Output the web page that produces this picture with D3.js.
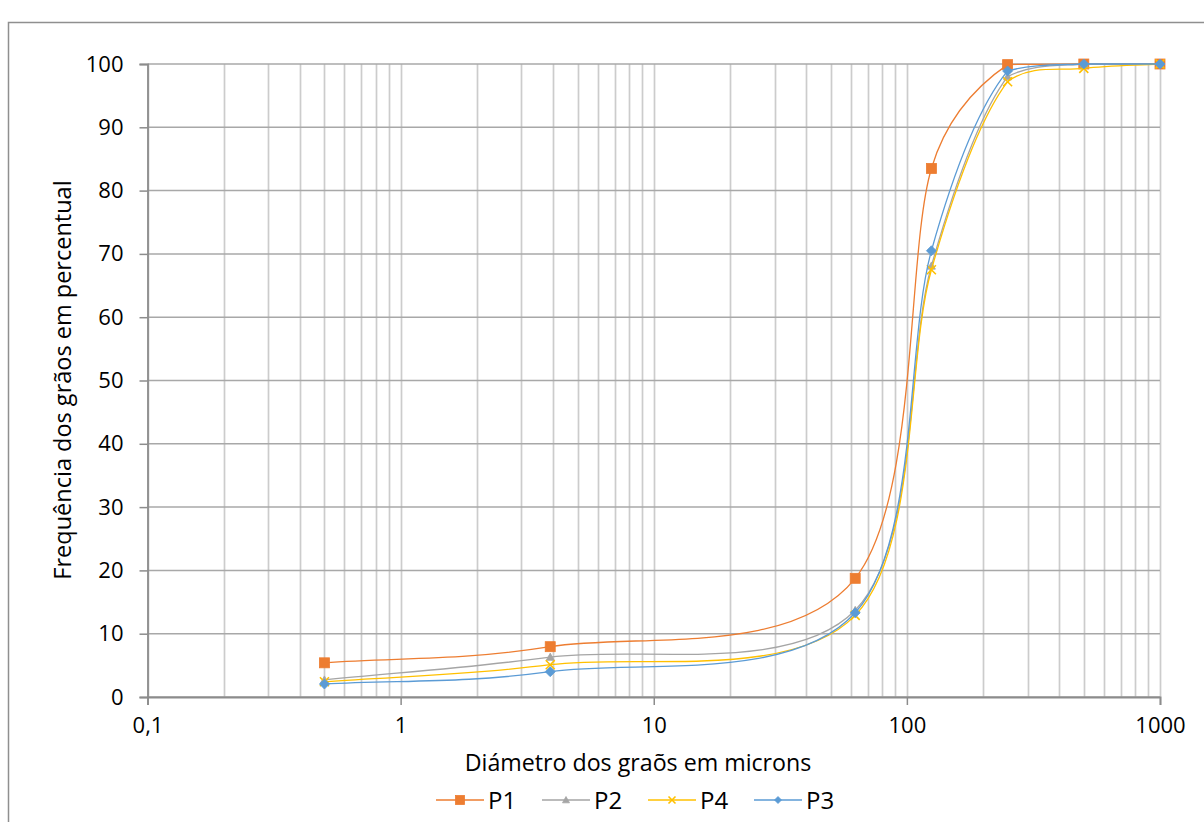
<!DOCTYPE html>
<html>
<head>
<meta charset="utf-8">
<script src="https://cdn.jsdelivr.net/npm/d3@7/dist/d3.min.js"></script>
<style>
  html, body { margin: 0; padding: 0; background: #fff; }
  svg { display: block; }
  text { font-family: "Open Sans", Lato, sans-serif; fill: #000; }
</style>
</head>
<body>
<svg id="chart" width="1204" height="822"></svg>
<script>
// ---- data ----
const diameters = [0.5, 3.9, 62.5, 125, 250, 500, 1000];
const seriesNames = ["P1", "P2", "P4", "P3"];
const p1Values = [5.4, 7.95, 18.75, 83.5, 99.9, 100, 100];
const p2Values = [2.7, 6.3, 13.7, 68.1, 98.0, 100, 100];
const p4Values = [2.4, 5.1, 12.9, 67.5, 97.2, 99.3, 100];
const p3Values = [2.05, 4.0, 13.3, 70.5, 98.9, 100, 100];
const seriesColors = ["#ED7D31", "#A5A5A5", "#FFC000", "#5B9BD5"];
const seriesMarkers = ["square", "triangle", "x", "diamond"];
const xTickValues = [0.1, 1, 10, 100, 1000];
const xTickLabels = ["0,1", "1", "10", "100", "1000"];
const yTickValues = [0, 10, 20, 30, 40, 50, 60, 70, 80, 90, 100];
const xTitle = "Diámetro dos graõs em microns";
const yTitle = "Frequência dos grãos em percentual";

const seriesValues = [p1Values, p2Values, p4Values, p3Values];

// ---- layout ----
const svg = d3.select("#chart");
const L = 147.5, R = 1160, T = 64, B = 697;
const x = d3.scaleLog().domain([0.1, 1000]).range([L, R]);
const y = d3.scaleLinear().domain([0, 100]).range([B, T]);

// chart border
svg.append("rect").attr("x", 8.5).attr("y", 22.5).attr("width", 1260).attr("height", 900)
  .attr("fill", "none").attr("stroke", "#8f8f8f").attr("stroke-width", 1.5);

// vertical gridlines (major + minor)
const minorTicks = [];
for (let e = -1; e < 3; e++) for (let m = 1; m <= 9; m++) minorTicks.push(m * Math.pow(10, e));
minorTicks.push(1000);
svg.append("g").selectAll("line").data(minorTicks).join("line")
  .attr("x1", d => Math.round(x(d)) + 0.5).attr("x2", d => Math.round(x(d)) + 0.5)
  .attr("y1", T).attr("y2", B)
  .attr("stroke", "#cccccc").attr("stroke-width", 1.7);

// horizontal gridlines
svg.append("g").selectAll("line").data(yTickValues).join("line")
  .attr("x1", L).attr("x2", R)
  .attr("y1", d => y(d)).attr("y2", d => y(d))
  .attr("stroke", "#a8a8a8").attr("stroke-width", 1.5);

// axes
const yAxis = d3.axisLeft(y).tickValues(yTickValues).tickSize(8).tickPadding(16).tickFormat(d3.format("d"));
const gy = svg.append("g").attr("transform", `translate(${L},0)`).call(yAxis);
gy.select(".domain").attr("stroke", "#8c8c8c").attr("stroke-width", 1.8);
gy.selectAll(".tick line").attr("stroke", "#8c8c8c").attr("stroke-width", 1.5);
gy.selectAll(".tick text").attr("font-size", 22).attr("font-family", "Lato").attr("fill", "#000");

const xAxis = d3.axisBottom(x).tickValues(xTickValues).tickSize(8).tickPadding(12)
  .tickFormat((d, i) => xTickLabels[i]);
const gx = svg.append("g").attr("transform", `translate(0,${B})`).call(xAxis);
gx.select(".domain").attr("stroke", "#8c8c8c").attr("stroke-width", 1.8);
gx.selectAll(".tick line").attr("stroke", "#8c8c8c").attr("stroke-width", 1.5);
gx.selectAll(".tick text").attr("font-size", 22).attr("font-family", "Lato").attr("fill", "#000");

// ---- Excel-like smoothing curve (control points kept inside the series' value range) ----
function ExcelSmooth(context) { this._context = context; }
ExcelSmooth.prototype = {
  areaStart() {}, areaEnd() {},
  lineStart() { this._p = []; },
  point(px, py) { this._p.push([+px, +py]); },
  lineEnd() {
    const p = this._p, n = p.length, c = this._context;
    if (!n) return;
    const yMin = d3.min(p, d => d[1]), yMax = d3.max(p, d => d[1]);
    const clampY = v => Math.max(yMin, Math.min(yMax, v));
    c.moveTo(p[0][0], p[0][1]);
    const dist = (a, b) => Math.hypot(b[0] - a[0], b[1] - a[1]);
    for (let i = 0; i < n - 1; i++) {
      const p0 = p[Math.max(i - 1, 0)], p1 = p[i], p2 = p[i + 1], p3 = p[Math.min(i + 2, n - 1)];
      const d02 = dist(p0, p2), d12 = dist(p1, p2), d13 = dist(p1, p3);
      let f1, f2;
      if (d02 / 6 < d12 / 2 && d13 / 6 < d12 / 2) {
        f1 = (i > 0) ? 1 / 6 : 1 / 3;
        f2 = (i + 2 < n) ? 1 / 6 : 1 / 3;
      } else if (d02 / 6 >= d12 / 2 && d13 / 6 >= d12 / 2) {
        f1 = d12 / 2 / d02; f2 = d12 / 2 / d13;
      } else if (d02 / 6 >= d12 / 2) {
        f1 = d12 / 2 / d02; f2 = d12 / 2 / d02;
      } else {
        f1 = d12 / 2 / d13; f2 = d12 / 2 / d13;
      }
      const b1 = [p1[0] + (p2[0] - p0[0]) * f1, clampY(p1[1] + (p2[1] - p0[1]) * f1)];
      const b2 = [p2[0] - (p3[0] - p1[0]) * f2, clampY(p2[1] - (p3[1] - p1[1]) * f2)];
      c.bezierCurveTo(b1[0], b1[1], b2[0], b2[1], p2[0], p2[1]);
    }
  }
};
const excelCurve = ctx => new ExcelSmooth(ctx);

const line = d3.line().x(d => x(d[0])).y(d => y(d[1])).curve(excelCurve);

function drawMarker(g, type, color, size) {
  const s = size / 2;
  if (type === "square") {
    g.append("rect").attr("x", -s).attr("y", -s).attr("width", size).attr("height", size)
      .attr("fill", color).attr("stroke", color).attr("stroke-width", 0.8);
  } else if (type === "triangle") {
    g.append("path").attr("d", `M0,${-s}L${s},${s * 0.8}L${-s},${s * 0.8}Z`)
      .attr("fill", color).attr("stroke", color).attr("stroke-width", 0.8);
  } else if (type === "x") {
    g.append("path").attr("d", `M${-s},${-s}L${s},${s}M${-s},${s}L${s},${-s}`)
      .attr("fill", "none").attr("stroke", color).attr("stroke-width", 1.6);
  } else if (type === "diamond") {
    g.append("path").attr("d", `M0,${-s}L${s},0L0,${s}L${-s},0Z`)
      .attr("fill", color).attr("stroke", color).attr("stroke-width", 0.8);
  }
}

const markerSizes = [10, 8, 9, 10];
seriesNames.forEach((name, si) => {
  const data = diameters.map((d, i) => [d, seriesValues[si][i]]);
  const g = svg.append("g");
  g.append("path").attr("d", line(data)).attr("fill", "none")
    .attr("stroke", seriesColors[si]).attr("stroke-width", 1.3);
  data.forEach(d => {
    const mg = g.append("g").attr("transform", `translate(${x(d[0])},${y(d[1])})`);
    drawMarker(mg, seriesMarkers[si], seriesColors[si], markerSizes[si]);
  });
});

// axis titles
svg.append("text").attr("x", 638).attr("y", 771).attr("text-anchor", "middle")
  .attr("font-size", 23.2).text(xTitle);
svg.append("text").attr("transform", "translate(71,380) rotate(-90)").attr("text-anchor", "middle")
  .attr("font-size", 23.5).text(yTitle);

// legend
const legend = svg.append("g");
const legendY = 800;
const legendStart = 436, legendPitch = 106;
const legendMarkerSizes = [9, 7, 7, 7];
seriesNames.forEach((name, si) => {
  const lx = legendStart + si * legendPitch;
  const g = legend.append("g");
  g.append("line").attr("x1", lx).attr("x2", lx + 48).attr("y1", legendY).attr("y2", legendY)
    .attr("stroke", seriesColors[si]).attr("stroke-width", 1.3);
  const mg = g.append("g").attr("transform", `translate(${lx + 24},${legendY})`);
  drawMarker(mg, seriesMarkers[si], seriesColors[si], legendMarkerSizes[si]);
  g.append("text").attr("x", lx + 52).attr("y", legendY + 8.5).attr("font-size", 24).text(name);
});
</script>
</body>
</html>
